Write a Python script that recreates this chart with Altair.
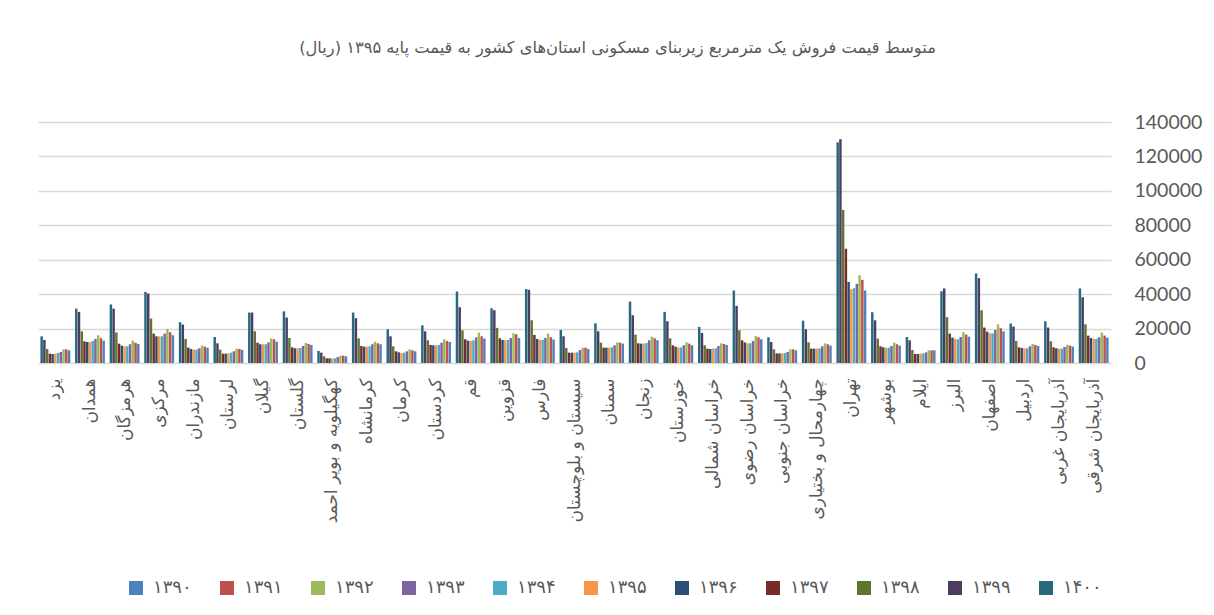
import altair as alt
import pandas as pd

provinces = ["یزد", "همدان", "هرمزگان", "مرکزی", "مازندران", "لرستان", "گیلان", "گلستان",
             "کهگیلویه و بویر احمد", "کرمانشاه", "کرمان", "کردستان", "قم", "قزوین", "فارس",
             "سیستان و بلوچستان", "سمنان", "زنجان", "خوزستان", "خراسان شمالی", "خراسان رضوی",
             "خراسان جنوبی", "چهارمحال و بختیاری", "تهران", "بوشهر", "ایلام", "البرز", "اصفهان",
             "اردبیل", "آذربایجان غربی", "آذربایجان شرقی"]

years = ["۱۳۹۰", "۱۳۹۱", "۱۳۹۲", "۱۳۹۳", "۱۳۹۴", "۱۳۹۵", "۱۳۹۶", "۱۳۹۷", "۱۳۹۸", "۱۳۹۹", "۱۴۰۰"]

v1390 = [7370, 13000, 11060, 16100, 8900, 7570, 12400, 10500, 3900, 10900, 6800, 12200, 14160, 14550, 13600, 8150, 11250, 13200, 10300, 10500, 13800, 7370, 10100, 42100, 10100, 7370, 15300, 18400, 9900, 9500, 14750]
v1391 = [7950, 14400, 11800, 17850, 9500, 8150, 13800, 11060, 4270, 11450, 7370, 12800, 15500, 16700, 14950, 8900, 11800, 14350, 11250, 11060, 14950, 7950, 10900, 48300, 10900, 7370, 16500, 20200, 10500, 10100, 15900]
v1392 = [7950, 16100, 13000, 19800, 10100, 8340, 14350, 11640, 4270, 12400, 7950, 13800, 17650, 17270, 17070, 8900, 12000, 15300, 12000, 11450, 15700, 7950, 11450, 51000, 11800, 7370, 17850, 22500, 11060, 10500, 17650]
v1393 = [6400, 14000, 10900, 17070, 8540, 6800, 12000, 9900, 3500, 10900, 6800, 11800, 14900, 14550, 14550, 7570, 10300, 13200, 10300, 9900, 12800, 6400, 9700, 46000, 9900, 6200, 15100, 19200, 9700, 9300, 14950]
v1394 = [5800, 12800, 9700, 15500, 7760, 6000, 10900, 8730, 2700, 9700, 6000, 10500, 13200, 13400, 13400, 6200, 9100, 11640, 9100, 8540, 11450, 5800, 8540, 43500, 8900, 5600, 13800, 17270, 8540, 8340, 14000]
v1395 = [5430, 12200, 9700, 15500, 7760, 5600, 10900, 8540, 2700, 9500, 5800, 10300, 12800, 13200, 13400, 6000, 8900, 11250, 9100, 8340, 11450, 5600, 8340, 42900, 8900, 5430, 14000, 17270, 8540, 8340, 14000]
v1396 = [5240, 12200, 10100, 15500, 8150, 5430, 10900, 8540, 2700, 9500, 6200, 10300, 13000, 13400, 14000, 6000, 8900, 11250, 9500, 8150, 12000, 5600, 8340, 47100, 9100, 5240, 14750, 18250, 8730, 8540, 14550]
v1397 = [5430, 12600, 11250, 17070, 8900, 5430, 11800, 9100, 2700, 9900, 6800, 10500, 13800, 14350, 16300, 6000, 8900, 11450, 10300, 8340, 13200, 5600, 8340, 66350, 9700, 5240, 17070, 20600, 9100, 9100, 15900]
v1398 = [8150, 18400, 17800, 25800, 14000, 7760, 18400, 14550, 3900, 14350, 9700, 13200, 19000, 20400, 24800, 8730, 11800, 16500, 14350, 10300, 19000, 7950, 12000, 88900, 14160, 7570, 26600, 30650, 12800, 12600, 22500]
v1399 = [13400, 29700, 31600, 40350, 22300, 11450, 29300, 26400, 6000, 26000, 15500, 18400, 32400, 30650, 42500, 15500, 18400, 27700, 24250, 17460, 33200, 12200, 19600, 130000, 24800, 13200, 43300, 49300, 21150, 20600, 38200]
v1400 = [15500, 31600, 34000, 41300, 23700, 15100, 29300, 30000, 7000, 29300, 19600, 21900, 41500, 31800, 43000, 19200, 23100, 35700, 29700, 20950, 42100, 14950, 24600, 128200, 29500, 15100, 41700, 52000, 22900, 24250, 43300]

y_ticks = [0, 20000, 40000, 60000, 80000, 100000, 120000, 140000]

colors = ["#4F81BD", "#C0504D", "#9BBB59", "#8064A2", "#4BACC6", "#F79646",
          "#2C4D75", "#772C2A", "#5F7530", "#4D3B62", "#276A7C"]

title_text = "متوسط قیمت فروش یک مترمربع زیربنای مسکونی استان‌های کشور به قیمت پایه ۱۳۹۵ (ریال)"

series = [v1390, v1391, v1392, v1393, v1394, v1395, v1396, v1397, v1398, v1399, v1400]
rows = []
for yr, vals in zip(years, series):
    for p, v in zip(provinces, vals):
        rows.append({"province": p, "year": yr, "value": v})
df = pd.DataFrame(rows)

gray = "#595959"

chart = alt.Chart(df).mark_bar().encode(
    x=alt.X("province:N", sort=provinces,
            scale=alt.Scale(paddingInner=0.137, paddingOuter=0.07),
            axis=alt.Axis(title=None, labelAngle=-90, ticks=False, domain=False,
                          labelPadding=15, labelFont="DejaVu Sans", labelFontSize=17,
                          labelColor=gray, labelLimit=250)),
    xOffset=alt.XOffset("year:N", sort=years[::-1], scale=alt.Scale(paddingInner=0.1)),
    y=alt.Y("value:Q", scale=alt.Scale(domain=[0, 140000]),
            axis=alt.Axis(title=None, orient="right", values=y_ticks, format="d",
                          ticks=False, domain=False, grid=True, gridColor="#D9D9D9",
                          gridWidth=1.3, labelFont="Lato", labelFontSize=19.5,
                          labelColor=gray, labelPadding=23)),
    color=alt.Color("year:N", sort=years,
                    scale=alt.Scale(domain=years, range=colors),
                    legend=alt.Legend(title=None, orient="none", legendX=89, legendY=457,
                                      direction="horizontal", columns=11,
                                      symbolType="square", symbolSize=196,
                                      symbolStrokeWidth=0, labelFont="DejaVu Sans",
                                      labelFontSize=18, labelColor=gray, labelOffset=8,
                                      columnPadding=26, padding=0))
).properties(
    width=1073,
    height=241,
    autosize=alt.AutoSizeParams(type="none"),
    padding={"left": 30, "top": 114, "right": 95, "bottom": 244},
    title=alt.Title(title_text, fontSize=16.3, font="DejaVu Sans", color=gray,
                    fontWeight="normal", offset=56, dx=43, anchor="middle"),
    background="white"
).configure_view(stroke=None)

chart.save("out.html", embed_options={"renderer": "svg", "actions": False})
